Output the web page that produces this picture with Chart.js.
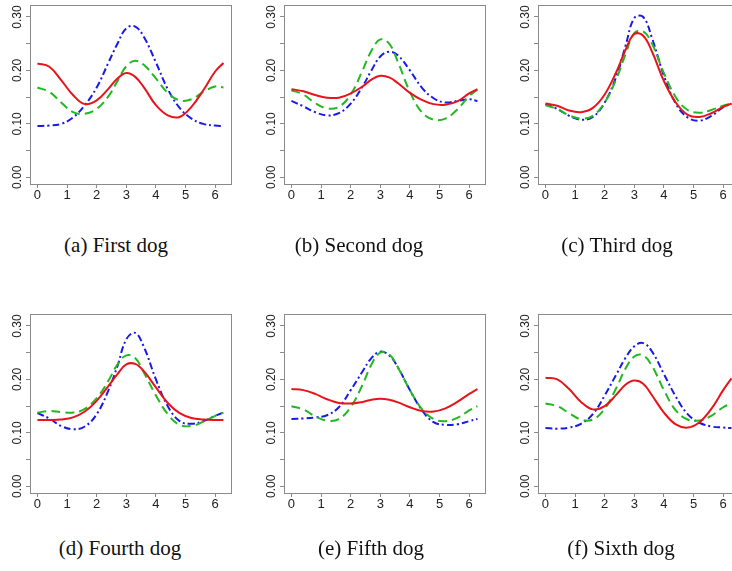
<!DOCTYPE html>
<html>
<head>
<meta charset="utf-8">
<script src="https://cdn.jsdelivr.net/npm/chart.js@4.4.1/dist/chart.umd.min.js"></script>
<style>
  body { margin: 0; width: 732px; height: 571px; overflow: hidden; background: #fff; position: relative; }
  canvas.panel { position: absolute; }
  .caption { position: absolute; font-family: "Liberation Serif", serif; font-size: 21px; line-height: 24px; color: #111; white-space: nowrap; transform: translateX(-50%); }
</style>
</head>
<body>
<script>
// angle grid (x values) shared by every panel
const angles = [0, 0.4, 0.8, 1.2, 1.6, 2.0, 2.4, 2.7, 3.0, 3.3, 3.6, 4.0, 4.4, 4.8, 5.2, 5.6, 6.0, 6.28];

const xTicks = [0, 1, 2, 3, 4, 5, 6];
const yTicks = [0, 0.05, 0.10, 0.15, 0.20, 0.25, 0.30];
const yLabels = [0, 0.10, 0.20, 0.30];

const captions = ["(a) First dog", "(b) Second dog", "(c) Third dog",
                  "(d) Fourth dog", "(e) Fifth dog", "(f) Sixth dog"];

// red solid
const dog1Red   = [0.213, 0.207, 0.182, 0.154, 0.137, 0.144, 0.166, 0.185, 0.195, 0.188, 0.168, 0.135, 0.116, 0.113, 0.132, 0.163, 0.198, 0.214];
const dog2Red   = [0.165, 0.161, 0.154, 0.149, 0.149, 0.157, 0.170, 0.183, 0.190, 0.187, 0.176, 0.158, 0.145, 0.137, 0.136, 0.142, 0.157, 0.165];
const dog3Red   = [0.138, 0.134, 0.125, 0.122, 0.130, 0.155, 0.198, 0.238, 0.268, 0.265, 0.235, 0.180, 0.140, 0.117, 0.113, 0.120, 0.132, 0.138];
const dog4Red   = [0.124, 0.124, 0.125, 0.129, 0.140, 0.160, 0.188, 0.210, 0.228, 0.229, 0.215, 0.185, 0.156, 0.137, 0.128, 0.125, 0.124, 0.124];
const dog5Red   = [0.182, 0.180, 0.173, 0.163, 0.156, 0.155, 0.158, 0.162, 0.164, 0.162, 0.157, 0.148, 0.141, 0.140, 0.146, 0.158, 0.173, 0.182];
const dog6Red   = [0.203, 0.200, 0.182, 0.158, 0.144, 0.150, 0.172, 0.190, 0.198, 0.192, 0.170, 0.138, 0.116, 0.110, 0.120, 0.145, 0.180, 0.202];

// green dashed
const dog1Green = [0.168, 0.160, 0.140, 0.122, 0.119, 0.128, 0.152, 0.180, 0.208, 0.218, 0.210, 0.185, 0.158, 0.144, 0.146, 0.160, 0.170, 0.168];
const dog2Green = [0.163, 0.155, 0.139, 0.129, 0.132, 0.155, 0.200, 0.237, 0.258, 0.250, 0.215, 0.160, 0.122, 0.108, 0.110, 0.127, 0.152, 0.164];
const dog3Green = [0.135, 0.128, 0.116, 0.110, 0.115, 0.140, 0.185, 0.230, 0.270, 0.273, 0.250, 0.195, 0.150, 0.126, 0.121, 0.126, 0.134, 0.138];
const dog4Green = [0.138, 0.141, 0.139, 0.138, 0.145, 0.165, 0.198, 0.228, 0.245, 0.240, 0.212, 0.170, 0.135, 0.115, 0.113, 0.121, 0.132, 0.138];
const dog5Green = [0.150, 0.144, 0.131, 0.123, 0.126, 0.148, 0.190, 0.228, 0.250, 0.247, 0.222, 0.180, 0.145, 0.126, 0.122, 0.128, 0.142, 0.150];
const dog6Green = [0.155, 0.150, 0.137, 0.125, 0.125, 0.145, 0.185, 0.220, 0.243, 0.245, 0.225, 0.180, 0.142, 0.125, 0.123, 0.132, 0.148, 0.155];

// blue dot-dash
const dog1Blue  = [0.096, 0.097, 0.100, 0.112, 0.135, 0.168, 0.215, 0.250, 0.279, 0.282, 0.262, 0.215, 0.165, 0.130, 0.110, 0.100, 0.097, 0.096];
const dog2Blue  = [0.143, 0.133, 0.122, 0.116, 0.120, 0.138, 0.170, 0.200, 0.226, 0.235, 0.228, 0.200, 0.168, 0.148, 0.140, 0.143, 0.146, 0.143];
const dog3Blue  = [0.137, 0.128, 0.115, 0.108, 0.113, 0.140, 0.190, 0.245, 0.298, 0.300, 0.260, 0.190, 0.138, 0.112, 0.106, 0.115, 0.131, 0.138];
const dog4Blue  = [0.137, 0.127, 0.113, 0.107, 0.112, 0.135, 0.180, 0.225, 0.275, 0.287, 0.260, 0.200, 0.150, 0.122, 0.117, 0.122, 0.132, 0.138];
const dog5Blue  = [0.126, 0.127, 0.129, 0.133, 0.148, 0.180, 0.215, 0.240, 0.252, 0.245, 0.222, 0.180, 0.143, 0.120, 0.115, 0.116, 0.122, 0.126];
const dog6Blue  = [0.109, 0.108, 0.110, 0.117, 0.135, 0.170, 0.210, 0.240, 0.262, 0.268, 0.252, 0.210, 0.168, 0.135, 0.119, 0.112, 0.110, 0.109];

const reds   = [dog1Red, dog2Red, dog3Red, dog4Red, dog5Red, dog6Red];
const greens = [dog1Green, dog2Green, dog3Green, dog4Green, dog5Green, dog6Green];
const blues  = [dog1Blue, dog2Blue, dog3Blue, dog4Blue, dog5Blue, dog6Blue];

// panel placement (plot box corner)
const boxLeft = [30, 284, 538];
const boxTop = [5, 314];
const captionX = [[116, 359, 617], [120, 371, 621]];
const captionY = [233, 536];

const axisColor = '#8a8a8a';

function toPoints(vals) {
  return angles.map((a, i) => ({ x: a, y: vals[i] }));
}

// gray frame around the plot region + rotated y labels like R
const framePlugin = {
  id: 'frame',
  afterDraw(chart) {
    const { ctx, chartArea } = chart;
    const ys = chart.scales.y;
    ctx.save();
    ctx.strokeStyle = axisColor;
    ctx.lineWidth = 1;
    ctx.strokeRect(Math.round(chartArea.left) + 0.5, Math.round(chartArea.top) + 0.5,
                   Math.round(chartArea.right - chartArea.left), Math.round(chartArea.bottom - chartArea.top));
    ctx.fillStyle = '#222';
    ctx.font = "12px 'Liberation Sans', Arial, sans-serif";
    ctx.textAlign = 'center';
    ctx.textBaseline = 'middle';
    yLabels.forEach(v => {
      const py = ys.getPixelForValue(v);
      ctx.save();
      ctx.translate(chartArea.left - 12, py);
      ctx.rotate(-Math.PI / 2);
      ctx.fillText(v.toFixed(2), 0, 0);
      ctx.restore();
    });
    ctx.restore();
  }
};

function makePanel(idx) {
  const row = Math.floor(idx / 3), col = idx % 3;
  const canvas = document.createElement('canvas');
  canvas.className = 'panel';
  canvas.width = 260;
  canvas.height = 215;
  canvas.style.left = (boxLeft[col] - 30) + 'px';
  canvas.style.top = (boxTop[row] - 5) + 'px';
  document.body.appendChild(canvas);

  const cap = document.createElement('div');
  cap.className = 'caption';
  cap.textContent = captions[idx];
  cap.style.left = captionX[row][col] + 'px';
  cap.style.top = captionY[row] + 'px';
  document.body.appendChild(cap);

  new Chart(canvas.getContext('2d'), {
    type: 'line',
    data: {
      datasets: [
        { data: toPoints(reds[idx]), borderColor: '#e8141c', borderWidth: 2 },
        { data: toPoints(greens[idx]), borderColor: '#22b822', borderWidth: 2, borderDash: [9, 5] },
        { data: toPoints(blues[idx]), borderColor: '#1a1ae6', borderWidth: 2, borderDash: [7, 3, 2, 3] }
      ]
    },
    options: {
      responsive: false,
      animation: false,
      devicePixelRatio: 1,
      layout: { padding: { left: 0, top: 5, right: 29, bottom: 0 } },
      elements: {
        point: { radius: 0 },
        line: { tension: 0.4, fill: false }
      },
      plugins: { legend: { display: false }, tooltip: { enabled: false } },
      scales: {
        x: {
          type: 'linear',
          min: -0.2513,
          max: 6.5345,
          afterBuildTicks: s => { s.ticks = xTicks.map(v => ({ value: v })); },
          afterFit: s => { s.height = 31; },
          border: { display: false },
          grid: { drawOnChartArea: false, drawTicks: true, tickLength: 4, color: axisColor },
          ticks: {
            padding: 0,
            color: '#222',
            font: { family: "'Liberation Sans', Arial, sans-serif", size: 13 },
            maxRotation: 0,
            autoSkip: false
          }
        },
        y: {
          type: 'linear',
          min: -0.0124,
          max: 0.3224,
          afterBuildTicks: s => { s.ticks = yTicks.map(v => ({ value: v })); },
          afterFit: s => { s.width = 30; },
          border: { display: false },
          grid: { drawOnChartArea: false, drawTicks: true, tickLength: 4, color: axisColor },
          ticks: { display: false }
        }
      }
    },
    plugins: [framePlugin]
  });
}

for (let i = 0; i < 6; i++) makePanel(i);
</script>
</body>
</html>
